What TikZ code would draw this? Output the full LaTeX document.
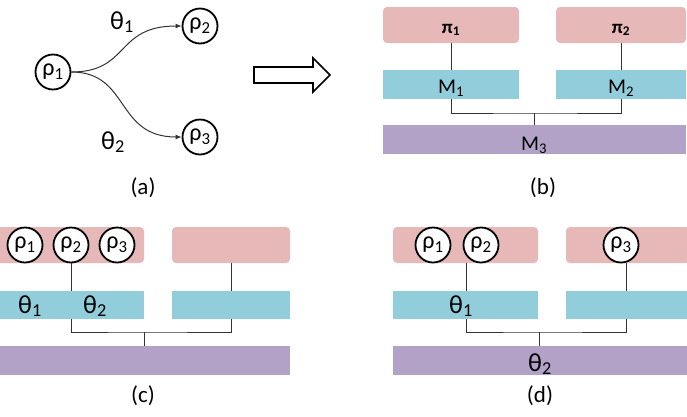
\documentclass[tikz,border=0pt]{standalone}
\usepackage{fontspec}
\setmainfont{Carlito}
\usetikzlibrary{arrows.meta}
\definecolor{pinkc}{HTML}{E6B9B8}
\definecolor{bluec}{HTML}{92CDDC}
\definecolor{purc}{HTML}{B3A2C7}
\tikzset{
  rnode/.style={circle,draw=black,line width=1.8pt,fill=white,minimum size=35pt,inner sep=0pt,font=\fontsize{24}{24}\selectfont},
  pinkbox/.style={rectangle,rounded corners=4pt,fill=pinkc,inner sep=0pt},
  bluebox/.style={rectangle,fill=bluec,inner sep=0pt},
  purbox/.style={rectangle,fill=purc,inner sep=0pt},
  lbl/.style={font=\fontsize{23}{23}\selectfont,inner sep=0pt},
  mlbl/.style={font=\fontsize{21}{21}\selectfont,inner sep=0pt},
  plbl/.style={font=\bfseries\fontsize{19}{19}\selectfont,inner sep=0pt},
  theta/.style={font=\fontsize{26}{26}\selectfont,inner sep=0pt},
  conn/.style={line width=1pt,draw=black!80},
}
\begin{document}
\begin{tikzpicture}[x=1pt,y=-1pt]
\useasboundingbox (0,0) rectangle (687,416);
% ---------- (a)
\node[rnode] (a1) at (53,72) {ρ\textsubscript{1}};
\node[rnode] (a2) at (200,26) {ρ\textsubscript{2}};
\node[rnode] (a3) at (200,137) {ρ\textsubscript{3}};
\draw[conn,-{Latex[length=6pt,width=5pt]}] (a1.east) .. controls (130,72) and (115,26) .. (a2.west);
\draw[conn,-{Latex[length=6pt,width=5pt]}] (a1.east) .. controls (130,72) and (115,137) .. (a3.west);
\node[theta] (t1) at (122,22) {θ\textsubscript{1}};
\node[theta] (t2) at (113,142) {θ\textsubscript{2}};
\node[lbl] (la) at (143,188) {(a)};
% hollow arrow
\draw[line width=1.6pt] (254,67) -- (313,67) -- (313,58) -- (330,75) -- (313,92) -- (313,83) -- (254,83) -- cycle;
% ---------- (b)
\node[pinkbox,minimum width=136pt,minimum height=36pt] (bp1) at (451,25) {};
\node[pinkbox,minimum width=130pt,minimum height=36pt] (bp2) at (621,25) {};
\node[bluebox,minimum width=136pt,minimum height=29pt] (bb1) at (451,84.5) {};
\node[bluebox,minimum width=130pt,minimum height=29pt] (bb2) at (621,84.5) {};
\node[purbox,minimum width=303pt,minimum height=29pt] (bm) at (534.5,139.5) {};
\node[plbl] at (451,30) {π\textsubscript{1}};
\node[plbl] at (621,30) {π\textsubscript{2}};
\node[mlbl] at (451,88) {M\textsubscript{1}};
\node[mlbl] at (621,88) {M\textsubscript{2}};
\node[mlbl] at (534,145) {M\textsubscript{3}};
\draw[conn] (bp1.south) -- (bb1.north);
\draw[conn] (bp2.south) -- (bb2.north);
\coordinate (bj) at (534,113);
\draw[conn] (bb1.south) |- (bj) -| (bb2.south);
\draw[conn] (bj) -- (bm.north -| bj);
\node[lbl] (lb) at (543,188) {(b)};
% ---------- (c)
\node[pinkbox,minimum width=148pt,minimum height=36pt] (cp1) at (70,245) {};
\node[pinkbox,minimum width=118pt,minimum height=36pt] (cp2) at (231,245) {};
\node[bluebox,minimum width=148pt,minimum height=28pt] (cb1) at (70,305) {};
\node[bluebox,minimum width=118pt,minimum height=28pt] (cb2) at (231,305) {};
\node[purbox,minimum width=294pt,minimum height=29pt] (cm) at (143,360.5) {};
\node[rnode] (c1) at (25,245) {ρ\textsubscript{1}};
\node[rnode] (c2) at (71,245) {ρ\textsubscript{2}};
\node[rnode] (c3) at (117,245) {ρ\textsubscript{3}};
\draw[conn] (c2.south) -- (c2.south |- cb1.north);
\draw[conn] (cp2.south) -- (cb2.north);
\coordinate (cj) at (144,332);
\draw[conn] (c2.south |- cb1.south) |- (cj) -| (cb2.south);
\draw[conn] (cj) -- (cm.north -| cj);
\node[theta] at (30,306) {θ\textsubscript{1}};
\node[theta] at (95,306) {θ\textsubscript{2}};
\node[lbl] (lc) at (143,396) {(c)};
% ---------- (d)
\node[pinkbox,minimum width=145pt,minimum height=36pt] (dp1) at (465.5,245) {};
\node[pinkbox,minimum width=124pt,minimum height=36pt] (dp2) at (628,245) {};
\node[bluebox,minimum width=145pt,minimum height=28pt] (db1) at (465.5,305) {};
\node[bluebox,minimum width=124pt,minimum height=28pt] (db2) at (628,305) {};
\node[purbox,minimum width=294pt,minimum height=29pt] (dm) at (540,360.5) {};
\node[rnode] (d1) at (433,245) {ρ\textsubscript{1}};
\node[rnode] (d2) at (481,245) {ρ\textsubscript{2}};
\node[rnode] (d3) at (621,245) {ρ\textsubscript{3}};
\coordinate (dx1) at (466,263);
\coordinate (dx2) at (626,263);
\draw[conn] (dx1) -- (dx1 |- db1.north);
\draw[conn] (dx2) -- (dx2 |- db2.north);
\coordinate (dj) at (539,332);
\draw[conn] (dx1 |- db1.south) |- (dj) -| (dx2 |- db2.south);
\draw[conn] (dj) -- (dm.north -| dj);
\node[theta] at (461,306) {θ\textsubscript{1}};
\node[theta] at (540,364) {θ\textsubscript{2}};
\node[lbl] (ld) at (540,396) {(d)};
\end{tikzpicture}
\end{document}
